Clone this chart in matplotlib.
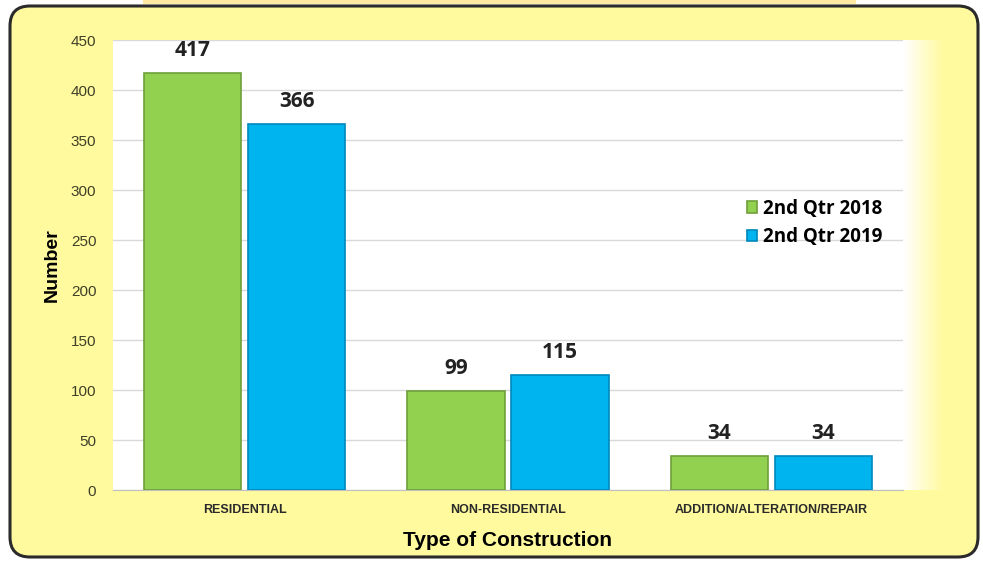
import numpy as np
import matplotlib
matplotlib.use("Agg")
import matplotlib.pyplot as plt
from matplotlib.patches import FancyBboxPatch, Rectangle

categories = ["RESIDENTIAL", "NON-RESIDENTIAL", "ADDITION/ALTERATION/REPAIR"]
series_names = ["2nd Qtr 2018", "2nd Qtr 2019"]
values_2018 = [417, 99, 34]
values_2019 = [366, 115, 34]
y_ticks = [0, 50, 100, 150, 200, 250, 300, 350, 400, 450]

fill_colors = ["#92D050", "#00B4F0"]
edge_colors = ["#6E9F3A", "#0088BB"]
panel_yellow = "#FFFA9E"

W, H = 9.83, 5.63
fig = plt.figure(figsize=(W, H), dpi=100)
fig.patch.set_facecolor("white")

# thin strip across the top
fig.patches.append(Rectangle((143 / 983, 1 - 4 / 563), (856 - 143) / 983, 4 / 563,
                             transform=fig.transFigure, facecolor="#FFE9A0",
                             edgecolor="none", zorder=0))

# rounded yellow panel behind the chart (in inches)
panel = FancyBboxPatch((0.10, 0.06), 9.68, 5.51,
                       boxstyle="round,pad=0,rounding_size=0.2",
                       transform=fig.dpi_scale_trans, facecolor=panel_yellow,
                       edgecolor="#2B2B2B", linewidth=2.2, zorder=0)
fig.patches.append(panel)

# soft white fade on the right side of the plot area
fade = fig.add_axes([903 / 983, 1 - 490 / 563, 40 / 983, 450 / 563], zorder=0.5)
grad = np.linspace(0, 1, 64)[None, :]
white = np.array([1.0, 1.0, 1.0])
yel = np.array(matplotlib.colors.to_rgb(panel_yellow))
img = white[None, None, :] * (1 - grad[..., None]) + yel[None, None, :] * grad[..., None]
fade.imshow(img, aspect="auto", extent=[0, 1, 0, 1])
fade.set_axis_off()

ax = fig.add_axes([113 / 983, 1 - 490 / 563, (903 - 113) / 983, 450 / 563], zorder=1)
ax.set_facecolor("white")

x = np.arange(len(categories))
width = 0.37
gap = 0.025
offsets = [-(width + gap) / 2, (width + gap) / 2]
label_font = ["Open Sans", "DejaVu Sans"]
arial = ["Liberation Sans", "DejaVu Sans"]

for i, vals in enumerate([values_2018, values_2019]):
    bars = ax.bar(x + offsets[i], vals, width, color=fill_colors[i],
                  edgecolor=edge_colors[i], linewidth=1.2, label=series_names[i], zorder=3)
    for b, v in zip(bars, vals):
        ax.text(b.get_x() + b.get_width() / 2, v + 12, f"{v}", ha="center", va="bottom",
                fontsize=15, fontweight="bold", color="#222222", family=label_font, zorder=4)

ax.set_ylim(0, 450)
ax.set_xlim(-0.5, len(categories) - 0.5)
ax.set_yticks(y_ticks)
ax.set_yticklabels([str(t) for t in y_ticks], fontsize=11, color="#3F3F28", family=arial)
ax.yaxis.grid(True, color="#D9D9D9", linewidth=1, zorder=0)
ax.set_axisbelow(True)
ax.tick_params(axis="y", length=0, pad=12)
ax.tick_params(axis="x", length=0, pad=10)
ax.set_xticks(x)
ax.set_xticklabels(categories, fontsize=9, fontweight="bold", family=arial, color="#2A2A2A")
for s in ["top", "right", "left"]:
    ax.spines[s].set_visible(False)
ax.spines["bottom"].set_color("#BFBFBF")

ax.set_ylabel("Number", fontsize=14, fontweight="bold", family=arial, labelpad=7)
ax.set_xlabel("Type of Construction", fontsize=15, fontweight="bold", family=arial, labelpad=11)

leg = ax.legend(loc="upper left", bbox_to_anchor=(0.781, 0.685), frameon=False,
                prop={"family": label_font, "weight": "bold", "size": 13.5},
                handlelength=0.55, handleheight=0.55, handletextpad=0.3, labelspacing=0.45)

fig.savefig("out.png", dpi=100, facecolor=fig.get_facecolor())
